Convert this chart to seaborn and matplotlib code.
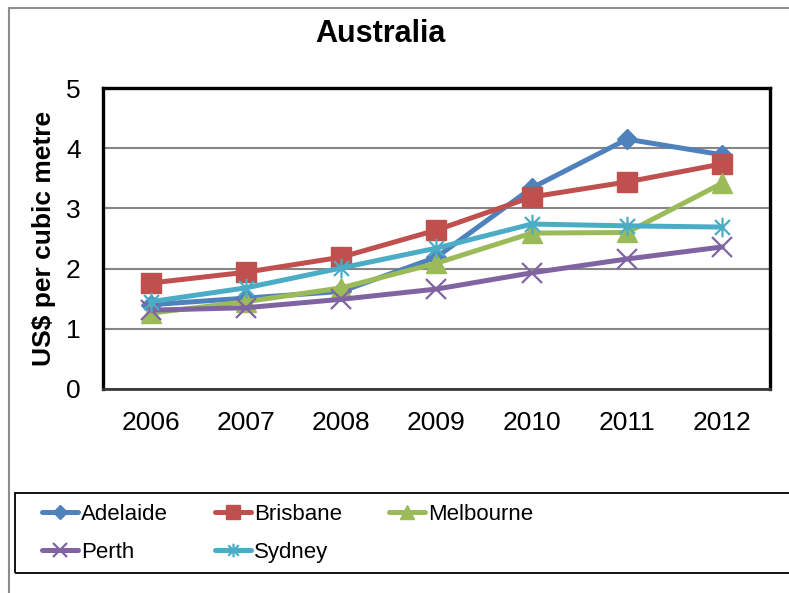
import matplotlib
matplotlib.use("Agg")
import matplotlib.pyplot as plt
from matplotlib.patches import Rectangle
from matplotlib.path import Path
import seaborn as sns

years = [2006, 2007, 2008, 2009, 2010, 2011, 2012]
adelaide = [1.40, 1.51, 1.62, 2.19, 3.34, 4.15, 3.89]
brisbane = [1.76, 1.94, 2.19, 2.64, 3.19, 3.44, 3.74]
melbourne = [1.26, 1.45, 1.68, 2.09, 2.59, 2.60, 3.42]
perth = [1.31, 1.35, 1.49, 1.66, 1.93, 2.16, 2.36]
sydney = [1.45, 1.68, 2.01, 2.34, 2.74, 2.71, 2.69]

cities = ["Adelaide", "Brisbane", "Melbourne", "Perth", "Sydney"]
series = [adelaide, brisbane, melbourne, perth, sydney]
colors = ["#4F81BD", "#C0504D", "#9BBB59", "#8064A2", "#4BACC6"]

# excel style "star": an X with a vertical bar
star = Path([(-1, -1), (1, 1), (-1, 1), (1, -1), (0, -1.3), (0, 1.3)],
            [Path.MOVETO, Path.LINETO, Path.MOVETO, Path.LINETO, Path.MOVETO, Path.LINETO])
markers = ["D", "s", "^", "x", star]
msizes = [10, 14, 14, 14, 14]
medges = [1, 1, 1, 1.6, 1.6]

sns.set_style("white")
plt.rcParams['font.family'] = ['Liberation Sans', 'DejaVu Sans']
plt.rcParams['text.color'] = 'black'
plt.rcParams['axes.labelcolor'] = 'black'
plt.rcParams['xtick.color'] = 'black'
plt.rcParams['ytick.color'] = 'black'

fig = plt.figure(figsize=(7.89, 5.93), dpi=100)
ax = fig.add_axes([103/789, 1 - 389/593, 667/789, 301/593])

for name, vals, c, m, ms, mew in zip(cities, series, colors, markers, msizes, medges):
    sns.lineplot(x=years, y=vals, ax=ax, color=c, marker=m, markersize=ms,
                 markeredgecolor=c, markerfacecolor=c, markeredgewidth=mew,
                 linewidth=3.6, label=name)

ax.set_xlim(2005.5, 2012.5)
ax.set_ylim(0, 5)
ax.set_xticks(years)
ax.set_yticks([0, 1, 2, 3, 4, 5])
ax.yaxis.grid(True, color="#868686", linewidth=1.5)
ax.xaxis.grid(False)
ax.set_axisbelow(True)
ax.tick_params(length=0, pad=16, labelsize=19)
ax.set_xlabel("")
ax.set_ylabel("US$ per cubic metre", fontsize=19, fontweight="bold", labelpad=7)
for s in ["left", "top", "right"]:
    ax.spines[s].set_color("black")
    ax.spines[s].set_linewidth(2.4)
ax.spines["bottom"].set_color("#3a3a3a")
ax.spines["bottom"].set_linewidth(2)

fig.text(380/789, 1 - 34/593, "Australia", ha="center", va="center",
         fontsize=22, fontweight="bold")

handles, labels = ax.get_legend_handles_labels()
ax.get_legend().remove()
order = [0, 3, 1, 4, 2]
leg = fig.legend([handles[i] for i in order], [labels[i] for i in order],
                 ncol=3, loc="upper left", bbox_to_anchor=(42/789, 1 - 504/593),
                 frameon=False, borderpad=0, borderaxespad=0,
                 handlelength=1.62, handletextpad=0.15,
                 columnspacing=2.1, labelspacing=0.75,
                 prop={"family": ["Liberation Sans Narrow", "Liberation Sans"], "size": 16})
for h in leg.legend_handles:
    h.set_markersize(h.get_markersize() * 0.7)

# chart area border and legend box
fig.add_artist(Rectangle((9/789, -0.1), 1.2, 1.1 - 8/593, transform=fig.transFigure,
                         fill=False, edgecolor="#8c8c8c", linewidth=1.5))
fig.add_artist(Rectangle((15/789, 1 - 573/593), 1.2, 80/593, transform=fig.transFigure,
                         fill=False, edgecolor="black", linewidth=1.3))

fig.savefig("out.png", dpi=100)
